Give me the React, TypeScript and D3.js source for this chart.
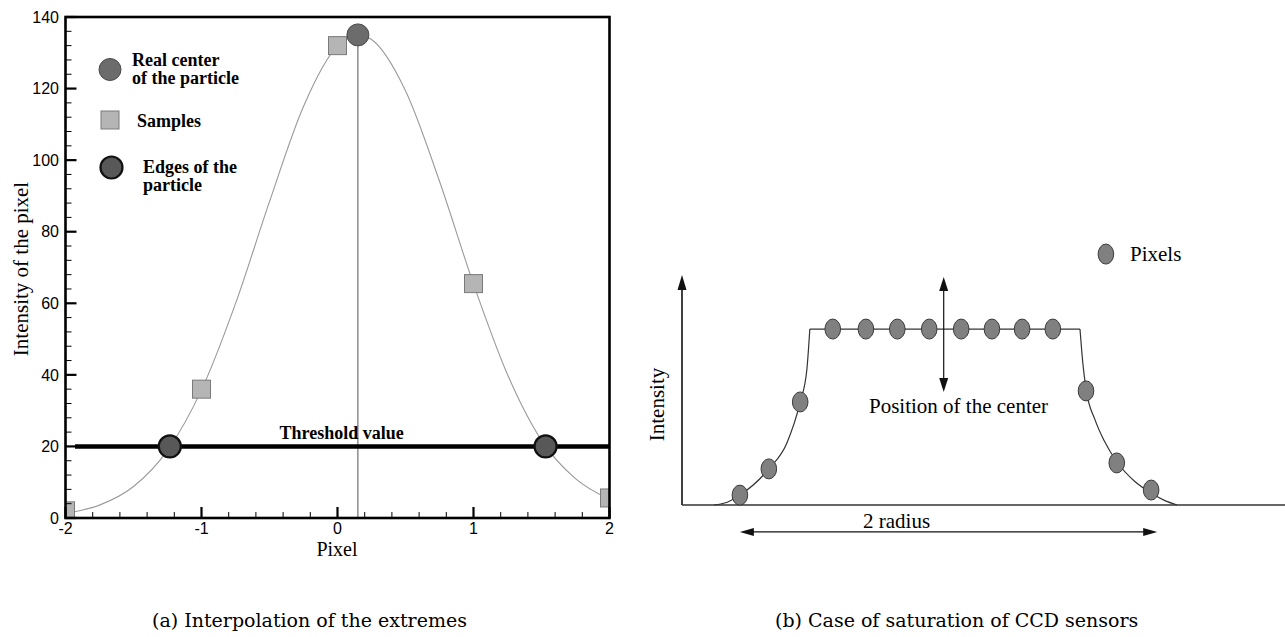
import React from "react";
import * as d3 from "d3";

// ---------- Panel (a): interpolation of the extremes ----------
const curvePixel = [-2, -1.75, -1.5, -1.25, -1, -0.75, -0.5, -0.25, 0, 0.15, 0.25, 0.5, 0.75, 1, 1.25, 1.5, 1.75, 2];
const curveIntensity = [1.3, 3.6, 8.8, 18.9, 35.8, 59.9, 88.4, 115.0, 131.9, 135.0, 133.7, 119.4, 94.1, 65.4, 40.1, 21.7, 11.0, 5.2];

const samplePixel = [-2, -1, 0, 1, 2];
const sampleIntensity = [2.0, 36.0, 132.0, 65.5, 5.6];

const centerPixel = 0.15;
const centerIntensity = 135;

const thresholdValue = 20;
const thresholdStart = -1.93;
const edgePixels = [-1.233, 1.53];

const xTicksA = [-2, -1, 0, 1, 2];
const yTicksA = [0, 20, 40, 60, 80, 100, 120, 140];

// ---------- Panel (b): saturation of CCD sensors ----------
const pixelPos = [9.6, 14.4, 19.6, 25.0, 30.5, 35.7, 41.0, 46.3, 51.4, 56.4, 61.5, 67.0, 72.1, 77.8];
const pixelLevel = [4.3, 15.7, 44.8, 76.5, 76.5, 76.5, 76.5, 76.5, 76.5, 76.5, 76.5, 49.6, 18.3, 6.5];

const riseX = [5.3, 7.5, 9.6, 14.4, 17.4, 19.6, 20.7, 21.2];
const riseY = [0, 1.2, 4.3, 15.7, 27.0, 44.8, 58.7, 76.5];
const saturationLevel = 76.5;
const fallX = [66.0, 66.5, 67.0, 68.5, 70.0, 72.1, 75.1, 77.8, 80.0, 82.1];
const fallY = [76.5, 61.0, 50.5, 37.0, 28.0, 18.8, 10.2, 5.2, 2.0, 0];

const centerMark = 43.4;
const centerArrowSpan = [49.1, 99.1];
const radiusSpan = [9.6, 78.8];
const radiusLevel = -11.7;
const legendPixel = [70.3, 109.1];

const W = 1285;
const H = 637;

function arrowHead(tipX: number, tipY: number, dirX: number, dirY: number, len = 14, half = 4.5) {
  const bx = tipX - dirX * len;
  const by = tipY - dirY * len;
  const px = -dirY;
  const py = dirX;
  return `${tipX},${tipY} ${bx + px * half},${by + py * half} ${bx - px * half},${by - py * half}`;
}

function PanelA() {
  const x = d3.scaleLinear().domain([-2, 2]).range([65.5, 609.5]);
  const y = d3.scaleLinear().domain([0, 140]).range([518, 17]);
  const [x0, x1] = x.range();
  const [yb, yt] = y.range();

  const line = d3
    .line<number>()
    .x((_, i) => x(curvePixel[i]))
    .y((d) => y(d))
    .curve(d3.curveMonotoneX);

  const yMinor = d3.range(0, 141, 4).filter((v) => v % 20 !== 0);
  const xMinor = d3.range(-2, 2.001, 0.2).filter((v) => Math.abs(v - Math.round(v)) > 1e-6);

  const sq = 18;
  const serif = "'Liberation Serif', 'Times New Roman', serif";
  const sans = "'Liberation Sans', Arial, sans-serif";

  return (
    <g>
      <defs>
        <clipPath id="plotA">
          <rect x={x0} y={yt} width={x1 - x0} height={yb - yt} />
        </clipPath>
      </defs>
      <g clipPath="url(#plotA)">
        <path d={line(curveIntensity) || ""} fill="none" stroke="#9a9a9a" strokeWidth={1.1} />
        <line x1={x(centerPixel)} x2={x(centerPixel)} y1={y(centerIntensity)} y2={y(0)} stroke="#555" strokeWidth={1} />
        <line x1={x(thresholdStart)} x2={x1} y1={y(thresholdValue)} y2={y(thresholdValue)} stroke="#000" strokeWidth={4.5} />
        {samplePixel.map((p, i) => (
          <rect key={i} x={x(p) - sq / 2} y={y(sampleIntensity[i]) - sq / 2} width={sq} height={sq} fill="#b5b5b5" stroke="#7a7a7a" strokeWidth={1} />
        ))}
        <circle cx={x(centerPixel)} cy={y(centerIntensity)} r={11} fill="#6c6c6c" stroke="#4a4a4a" strokeWidth={1} />
        {edgePixels.map((p, i) => (
          <circle key={i} cx={x(p)} cy={y(thresholdValue)} r={11} fill="#585858" stroke="#111" strokeWidth={2.2} />
        ))}
      </g>

      <rect x={x0} y={yt} width={x1 - x0} height={yb - yt} fill="none" stroke="#000" strokeWidth={2.6} />

      {/* y ticks */}
      {yTicksA.map((t) => (
        <g key={t}>
          <line x1={x0} x2={x0 + 11} y1={y(t)} y2={y(t)} stroke="#000" strokeWidth={2.2} />
          <text x={59} y={y(t)} dy="0.36em" textAnchor="end" fontFamily={sans} fontSize={16}>
            {t}
          </text>
        </g>
      ))}
      {yMinor.map((t) => (
        <line key={t} x1={x0} x2={x0 + 6} y1={y(t)} y2={y(t)} stroke="#000" strokeWidth={1} />
      ))}

      {/* x ticks */}
      {xTicksA.map((t) => (
        <g key={t}>
          <line x1={x(t)} x2={x(t)} y1={yb} y2={yb - 11} stroke="#000" strokeWidth={2.2} />
          <text x={x(t)} y={534} textAnchor="middle" fontFamily={sans} fontSize={16}>
            {t}
          </text>
        </g>
      ))}
      {xMinor.map((t, i) => (
        <line key={i} x1={x(t)} x2={x(t)} y1={yb} y2={yb - 6} stroke="#000" strokeWidth={1} />
      ))}

      <text x={337} y={556} textAnchor="middle" fontFamily={serif} fontSize={20}>
        Pixel
      </text>
      <text transform="translate(27.5,269) rotate(-90)" textAnchor="middle" fontFamily={serif} fontSize={21}>
        Intensity of the pixel
      </text>

      <text x={x(0.03)} y={439} textAnchor="middle" fontFamily={serif} fontWeight="bold" fontSize={18}>
        Threshold value
      </text>

      {/* legend */}
      <circle cx={110} cy={69.5} r={11} fill="#6c6c6c" stroke="#4a4a4a" strokeWidth={1} />
      <text x={132} y={66} fontFamily={serif} fontWeight="bold" fontSize={18}>
        Real center
      </text>
      <text x={132} y={84} fontFamily={serif} fontWeight="bold" fontSize={18}>
        of the particle
      </text>
      <rect x={101} y={111} width={18} height={18} fill="#b5b5b5" stroke="#7a7a7a" strokeWidth={1} />
      <text x={137} y={127} fontFamily={serif} fontWeight="bold" fontSize={18}>
        Samples
      </text>
      <circle cx={111.5} cy={167.5} r={11} fill="#585858" stroke="#111" strokeWidth={2.2} />
      <text x={143} y={173} fontFamily={serif} fontWeight="bold" fontSize={18}>
        Edges of the
      </text>
      <text x={143} y={191} fontFamily={serif} fontWeight="bold" fontSize={18}>
        particle
      </text>
    </g>
  );
}

function PanelB() {
  const x = d3.scaleLinear().domain([0, 100]).range([682, 1285]);
  const y = d3.scaleLinear().domain([0, 100]).range([505, 275]);
  const serif = "'Liberation Serif', 'Times New Roman', serif";

  const rise = d3
    .line<number>()
    .x((_, i) => x(riseX[i]))
    .y((d) => y(d))
    .curve(d3.curveMonotoneX);
  const fall = d3
    .line<number>()
    .x((_, i) => x(fallX[i]))
    .y((d) => y(d))
    .curve(d3.curveMonotoneX);

  const ax = x(0);
  const ay = y(0);

  return (
    <g>
      {/* axes */}
      <line x1={ax} x2={ax} y1={ay} y2={y(100) + 12} stroke="#111" strokeWidth={1.6} />
      <polygon points={arrowHead(ax, y(100), 0, -1, 15, 4.5)} fill="#111" />
      <line x1={ax} x2={W} y1={ay} y2={ay} stroke="#333" strokeWidth={1.3} />

      {/* profile */}
      <path d={rise(riseY) || ""} fill="none" stroke="#333" strokeWidth={1.2} />
      <line x1={x(riseX[riseX.length - 1])} x2={x(fallX[0])} y1={y(saturationLevel)} y2={y(saturationLevel)} stroke="#333" strokeWidth={1.2} />
      <path d={fall(fallY) || ""} fill="none" stroke="#333" strokeWidth={1.2} />

      {/* center arrow */}
      <line x1={x(centerMark)} x2={x(centerMark)} y1={y(centerArrowSpan[1]) + 10} y2={y(centerArrowSpan[0]) - 10} stroke="#111" strokeWidth={1.2} />
      <polygon points={arrowHead(x(centerMark), y(centerArrowSpan[1]), 0, -1, 14, 4.5)} fill="#111" />
      <polygon points={arrowHead(x(centerMark), y(centerArrowSpan[0]), 0, 1, 14, 4.5)} fill="#111" />

      {pixelPos.map((p, i) => (
        <ellipse key={i} cx={x(p)} cy={y(pixelLevel[i])} rx={7.8} ry={10} fill="#808080" stroke="#3a3a3a" strokeWidth={1} />
      ))}

      {/* radius arrow */}
      <line x1={x(radiusSpan[0]) + 10} x2={x(radiusSpan[1]) - 10} y1={y(radiusLevel)} y2={y(radiusLevel)} stroke="#111" strokeWidth={1.1} />
      <polygon points={arrowHead(x(radiusSpan[0]), y(radiusLevel), -1, 0, 14, 4)} fill="#111" />
      <polygon points={arrowHead(x(radiusSpan[1]), y(radiusLevel), 1, 0, 14, 4)} fill="#111" />

      <text x={863} y={528} fontFamily={serif} fontSize={21}>
        2 radius
      </text>
      <text x={869} y={412.5} fontFamily={serif} fontSize={21}>
        Position of the center
      </text>
      <text transform="translate(664,404.5) rotate(-90)" textAnchor="middle" fontFamily={serif} fontSize={21}>
        Intensity
      </text>

      {/* legend */}
      <ellipse cx={x(legendPixel[0])} cy={y(legendPixel[1])} rx={7.8} ry={10} fill="#808080" stroke="#3a3a3a" strokeWidth={1} />
      <text x={1130} y={261} fontFamily={serif} fontSize={21}>
        Pixels
      </text>
    </g>
  );
}

export default function App() {
  const capFont = "'DejaVu Serif', 'Liberation Serif', serif";
  return (
    <svg
      width={W}
      height={H}
      viewBox={`0 0 ${W} ${H}`}
      style={{ position: "absolute", left: 0, top: 0, background: "#fff" }}
    >
      <rect width={W} height={H} fill="#fff" />
      <PanelA />
      <PanelB />
      <text x={152} y={627} fontFamily={capFont} fontSize={19}>
        (a) Interpolation of the extremes
      </text>
      <text x={775} y={627} fontFamily={capFont} fontSize={19}>
        (b) Case of saturation of CCD sensors
      </text>
    </svg>
  );
}
